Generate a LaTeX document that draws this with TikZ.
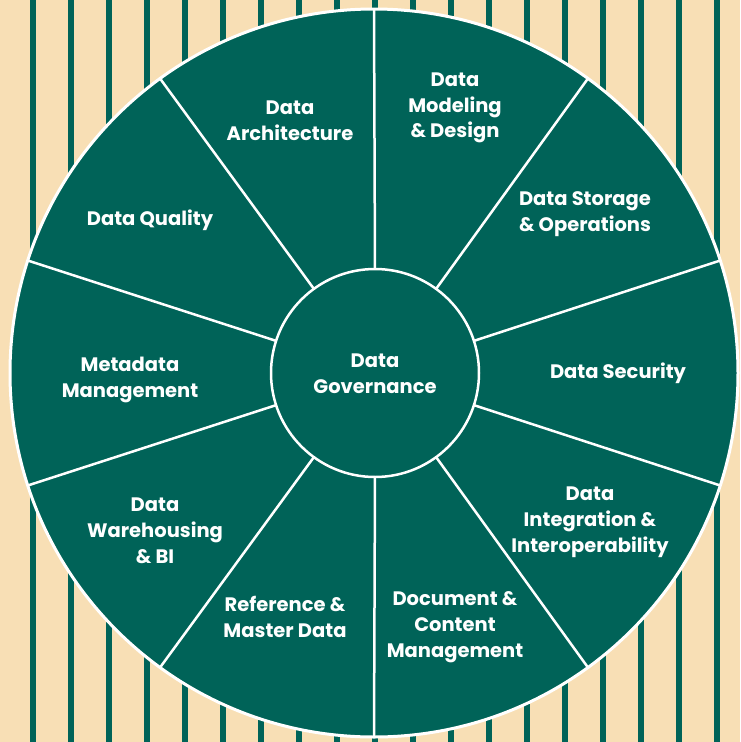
\documentclass[tikz,border=0pt]{standalone}
\usepackage{fontspec}
\setmainfont{Poppins}
\definecolor{peach}{RGB}{248,223,181}
\definecolor{tealgreen}{RGB}{0,99,88}
\tikzset{
  area/.style={text=white,font=\bfseries\fontsize{19.5}{25.8}\selectfont,align=center},
  spoke/.style={white,line width=2.5pt}
}

\begin{document}
\begin{tikzpicture}[x=1pt,y=-1pt]
      \useasboundingbox (0,0) rectangle (740,742);
      \fill[peach] (0,0) rectangle (740,742);
      % stripes behind the wheel
      \foreach \k in {0,...,18}
        \fill[tealgreen] (30+38*\k,0) rectangle (36+38*\k,742);
      \node[circle,draw=white,line width=3pt,fill=tealgreen,minimum size=728pt,inner sep=0pt,outer sep=0pt] (rim) at (374,373) {};
      \node[circle,draw=white,line width=2.5pt,fill=tealgreen,minimum size=208pt,inner sep=0pt,outer sep=0pt] (hub) at (375,373) {};
      % the ten spokes
      \foreach \a in {90,54,18,-18,-54,-90,-126,-162,162,126}
        \draw[spoke] (hub.\a) -- (rim.\a);
      \node[area] (gov) at (375,374) {Data\\Governance};
      \node[area] (arch) at (290,121) {Data\\Architecture};
      \node[area] (model) at (455,108) {Data\\Modeling\\\& Design};
      \node[area] (store) at (585,214) {Data Storage\\\& Operations};
      \node[area] (secur) at (618,373) {Data Security};
      \node[area] (integ) at (590,522) {Data\\Integration \&\\Interoperability};
      \node[area] (docu) at (455,627) {Document \&\\Content\\Management};
      \node[area] (refer) at (285,617) {Reference \&\\Master Data};
      \node[area] (wareh) at (155,531) {Data\\Warehousing\\\& BI};
      \node[area] (meta) at (130,380) {Metadata\\Management};
      \node[area] (qual) at (150,220) {Data Quality};
    \end{tikzpicture}
\end{document}
